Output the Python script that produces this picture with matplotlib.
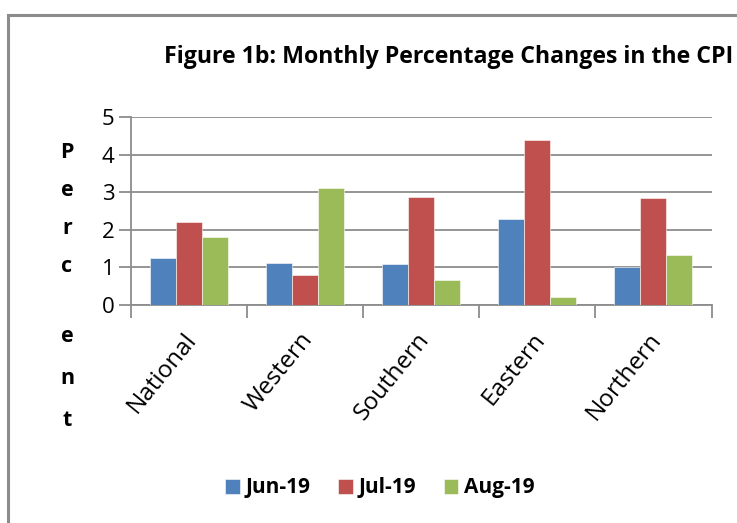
import matplotlib
matplotlib.use("Agg")
import matplotlib.pyplot as plt
from matplotlib.patches import Rectangle
import numpy as np

categories = ["National", "Western", "Southern", "Eastern", "Northern"]
series_names = ["Jun-19", "Jul-19", "Aug-19"]
jun19 = [1.25, 1.13, 1.10, 2.30, 1.02]
jul19 = [2.21, 0.81, 2.88, 4.40, 2.85]
aug19 = [1.81, 3.12, 0.66, 0.21, 1.33]
colors = ["#4F81BD", "#C0504D", "#9BBB59"]
yticks = [0, 1, 2, 3, 4, 5]

W, H = 737, 523
fig = plt.figure(figsize=(W / 100, H / 100), dpi=100)
font = "Open Sans"

# outer frame
fig.patches.append(Rectangle((8 / W, -0.1), 1.2, 1 - 15 / H + 0.1, transform=fig.transFigure,
                             fill=False, edgecolor="#8c8c8c", linewidth=2.2))

ax = fig.add_axes([131 / W, 1 - 305 / H, (711.5 - 131) / W, (305 - 117) / H])
x = np.arange(len(categories))
bw = 0.224
for i, (vals, name) in enumerate(zip([jun19, jul19, aug19], series_names)):
    ax.bar(x + (i - 1) * bw, vals, width=bw, color=colors[i], label=name, zorder=3,
           edgecolor="white", linewidth=0.4)

ax.set_xlim(-0.5, len(categories) - 0.5)
ax.set_ylim(0, 5)
ax.set_yticks(yticks)
ax.set_yticklabels([str(v) for v in yticks], fontsize=16, family=font)
ax.yaxis.grid(True, color="#8c8c8c", linewidth=1.3, zorder=0)
ax.set_axisbelow(True)
for s in ["top", "right"]:
    ax.spines[s].set_visible(False)
ax.spines["left"].set_color("#8c8c8c")
ax.spines["bottom"].set_color("#8c8c8c")
ax.spines["left"].set_linewidth(1.3)
ax.spines["bottom"].set_linewidth(1.3)
ax.tick_params(axis="y", length=9, color="#8c8c8c", width=1.3, pad=3)
ax.set_xticks(np.arange(len(categories) + 1) - 0.5)
ax.set_xticklabels([])
ax.tick_params(axis="x", length=9, color="#8c8c8c", width=1.3)
for xi, c in zip(x, categories):
    ax.text(xi - 0.05, -0.62, c, rotation=51, rotation_mode="anchor", ha="right", va="top",
            fontsize=17.5, family=font, transform=ax.transData)

fig.text(449 / W, 1 - 57 / H, "Figure 1b: Monthly Percentage Changes in the CPI", ha="center", va="center",
         fontsize=16.7, fontweight="bold", family=font)

letters = ["P", "e", "r", "c", "e", "n", "t"]
ys = [152, 191, 228, 267, 337, 379, 421]
for l, yy in zip(letters, ys):
    fig.text(67 / W, 1 - yy / H, l, ha="center", va="center", fontsize=15.5, fontweight="bold", family=font)

leg = fig.legend(loc="center", bbox_to_anchor=(380 / W, 1 - 488 / H), ncol=3, frameon=False,
                 prop={"family": font, "weight": "bold", "size": 15}, handlelength=0.7,
                 handleheight=0.7, handletextpad=0.3, columnspacing=1.3)

fig.savefig("out.png", dpi=100)
